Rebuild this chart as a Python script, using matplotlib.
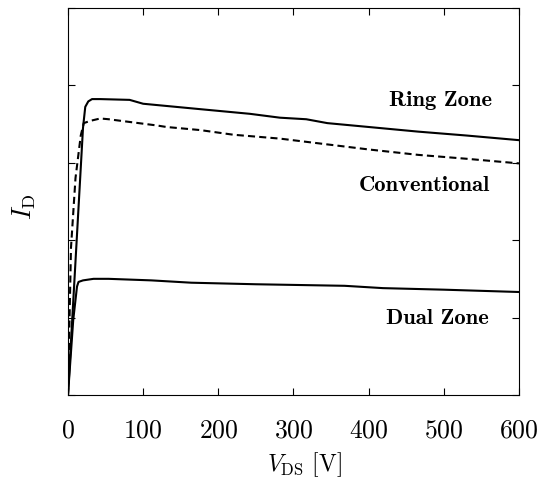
import matplotlib
matplotlib.use("Agg")
import matplotlib.pyplot as plt

plt.rcParams["mathtext.fontset"] = "cm"
plt.rcParams["font.family"] = "cmr10"
plt.rcParams["axes.formatter.use_mathtext"] = True

# Ring Zone
ring_v = [0, 20, 23, 27, 32, 43, 82, 100, 176, 242, 282, 317, 345, 400, 466, 530, 600]
ring_i = [0, 3.45, 3.72, 3.79, 3.82, 3.82, 3.81, 3.76, 3.69, 3.63, 3.58, 3.56, 3.51, 3.46, 3.40, 3.35, 3.29]

# Conventional
conv_v = [0, 4, 10, 17, 21, 30, 43, 54, 118, 131, 176, 220, 282, 341, 400, 466, 530, 600]
conv_i = [0, 1.9, 2.8, 3.35, 3.51, 3.54, 3.57, 3.56, 3.48, 3.46, 3.42, 3.36, 3.31, 3.24, 3.17, 3.10, 3.05, 2.99]

# Dual Zone
dual_v = [0, 7, 12, 14, 20, 34, 54, 111, 164, 250, 368, 419, 500, 600]
dual_i = [0, 0.97, 1.40, 1.46, 1.48, 1.50, 1.50, 1.48, 1.45, 1.43, 1.41, 1.38, 1.36, 1.33]

x_ticks = [0, 100, 200, 300, 400, 500, 600]
y_ticks = [0, 1, 2, 3, 4, 5]

fig = plt.figure(figsize=(5.46, 4.80), dpi=100)
ax = fig.add_axes([0.1245, 0.177, 0.826, 0.807])

ax.plot(ring_v, ring_i, color="black", lw=1.5)
ax.plot(conv_v, conv_i, color="black", lw=1.5, ls=(0, (3.4, 2.0)))
ax.plot(dual_v, dual_i, color="black", lw=1.5)

# curve labels
ax.text(496, 3.73, "Ring Zone", family="cmb10", fontsize=16.3, ha="center", va="baseline")
ax.text(474, 2.63, "Conventional", family="cmb10", fontsize=16.3, ha="center", va="baseline")
ax.text(492, 0.92, "Dual Zone", family="cmb10", fontsize=16.3, ha="center", va="baseline")

ax.set_xlim(0, 600)
ax.set_ylim(0, 5)
ax.set_xticks(x_ticks)
ax.set_yticks(y_ticks)
ax.set_yticklabels([])
ax.tick_params(direction="in", top=True, right=True, length=5, width=0.8, labelsize=18.5, pad=17)
ax.set_xlabel(r"$V_{\rm DS}$ [V]", fontsize=17, labelpad=5.5)
ax.xaxis.label.set_x(0.524)
ax.set_ylabel(r"$I_{\rm D}$", fontsize=19, labelpad=4.5)
ax.yaxis.label.set_y(0.485)

fig.savefig("out.png", dpi=100)
